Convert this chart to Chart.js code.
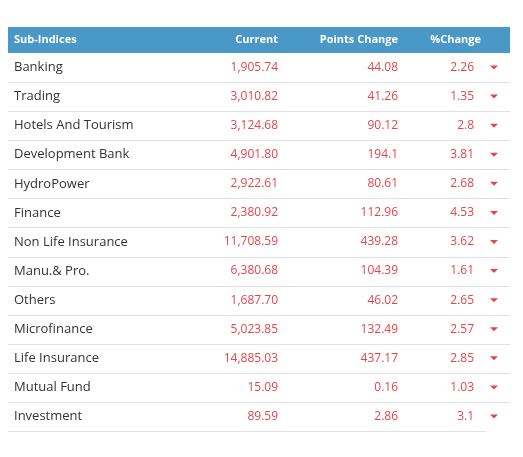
<!DOCTYPE html>
<html><head><meta charset="utf-8">
<script src="https://cdn.jsdelivr.net/npm/chart.js@4"></script>
<style>html,body{margin:0;padding:0;background:#fff}#c{display:block}</style>
</head><body>
<div style="width:523px;height:457px"><canvas id="c"></canvas></div>
<script>
const headers = ["Sub-Indices","Current","Points Change","%Change"];
const names = ["Banking","Trading","Hotels And Tourism","Development Bank","HydroPower","Finance","Non Life Insurance","Manu.& Pro.","Others","Microfinance","Life Insurance","Mutual Fund","Investment"];
const current = [1905.74,3010.82,3124.68,4901.80,2922.61,2380.92,11708.59,6380.68,1687.70,5023.85,14885.03,15.09,89.59];
const points = [44.08,41.26,90.12,194.1,80.61,112.96,439.28,104.39,46.02,132.49,437.17,0.16,2.86];
const pct = [2.26,1.35,2.8,3.81,2.68,4.53,3.62,1.61,2.65,2.57,2.85,1.03,3.1];

const fmt = v => v.toLocaleString('en-US',{minimumFractionDigits:2,maximumFractionDigits:2});
const tablePlugin = {
  id:'table',
  afterDraw(chart){
    const ctx = chart.ctx, y = chart.scales.y, a = chart.chartArea;
    const L = a.left, R = a.right;
    ctx.save();
    ctx.fillStyle = '#4a98c8';
    ctx.fillRect(L, a.top-26, R-L, 26);
    ctx.fillStyle = '#fff';
    ctx.font = 'bold 11px "Open Sans", sans-serif';
    ctx.textBaseline = 'middle';
    const hy = a.top-13;
    ctx.textAlign='left'; ctx.fillText(headers[0], 14, hy);
    ctx.textAlign='right';
    ctx.fillText(headers[1], 278, hy);
    ctx.fillText(headers[2], 398, hy);
    ctx.fillText(headers[3], 481, hy);
    const step = (a.bottom-a.top)/names.length;
    names.forEach((n,i)=>{
      const cy = y.getPixelForValue(i);
      ctx.strokeStyle = '#e2e2e2'; ctx.lineWidth = 1;
      ctx.beginPath();
      const by = Math.round(cy+step/2)+0.5;
      ctx.moveTo(L, by); ctx.lineTo(i===names.length-1?486:R, by); ctx.stroke();
      ctx.font = '13px "Open Sans", sans-serif';
      ctx.fillStyle = '#333'; ctx.textAlign='left';
      ctx.fillText(n, 14, cy);
      ctx.fillStyle = '#e2474d'; ctx.textAlign='right';
      ctx.font = '12px "Open Sans", sans-serif';
      ctx.fillText(fmt(current[i]), 278, cy);
      ctx.fillText(String(points[i]), 398, cy);
      ctx.fillText(String(pct[i]), 474, cy);
      ctx.beginPath();
      ctx.moveTo(490, cy-2); ctx.lineTo(498, cy-2); ctx.lineTo(494, cy+2); ctx.closePath(); ctx.fill();
    });
    ctx.restore();
  }
};
new Chart(document.getElementById('c'),{
  type:'bar',
  data:{labels:names,datasets:[{data:pct.map(()=>null)}]},
  options:{
    indexAxis:'y',responsive:true,maintainAspectRatio:false,animation:false,
    layout:{padding:{top:53,bottom:26,left:8,right:13}},
    plugins:{legend:{display:false},tooltip:{enabled:false}},
    scales:{x:{display:false},y:{display:false,offset:true}}
  },
  plugins:[tablePlugin]
});
</script>
</body></html>
